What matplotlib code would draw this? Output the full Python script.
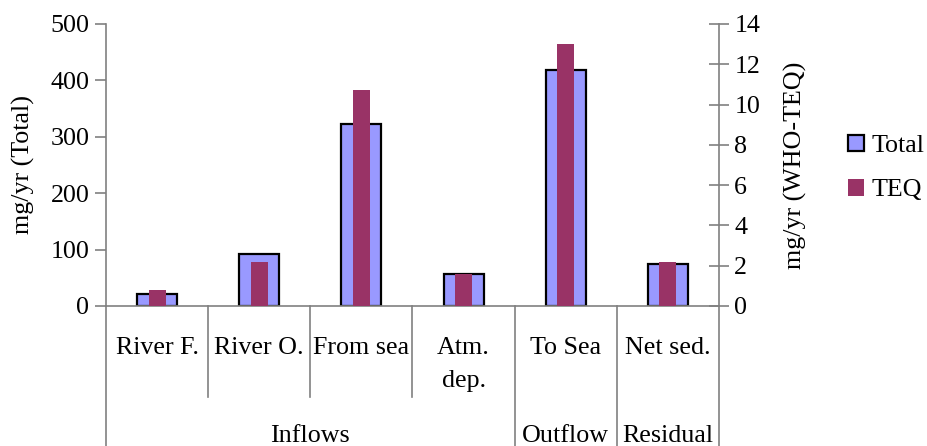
import numpy as np
import matplotlib
matplotlib.use("Agg")
import matplotlib.pyplot as plt
from matplotlib.patches import Patch
from matplotlib.lines import Line2D
import matplotlib.transforms as mtransforms

# flows of the budget, mg/yr
categories = ["River F.", "River O.", "From sea", "Atm.\ndep.", "To Sea", "Net sed."]
groups = ["Inflows", "Outflow", "Residual"]
group_sizes = [4, 1, 1]
total = [21, 92, 323, 57, 418, 75]
teq = [0.8, 2.2, 10.7, 1.6, 13.0, 2.2]

plt.rcParams["font.family"] = ["Liberation Serif", "DejaVu Serif"]
plt.rcParams["font.size"] = 18.7

axis_grey = "#808080"

fig = plt.figure(figsize=(9.28, 4.46), dpi=100)
W, H = 928, 446
ax = fig.add_axes([106 / W, 1 - 306 / H, (719 - 106) / W, (306 - 24) / H])
ax2 = ax.twinx()

x = np.arange(len(categories))
ax.bar(x, total, width=0.39, color="#9999FF", edgecolor="black", linewidth=1.6, zorder=2)
ax2.bar(x, teq, width=0.165, color="#993366", zorder=3)

ax.set_xlim(-0.5, len(categories) - 0.5)
ax.set_ylim(0, 500)
ax.set_yticks(range(0, 501, 100))
ax2.set_ylim(0, 14)
ax2.set_yticks(range(0, 15, 2))
ax.set_xticks([])

for a in (ax, ax2):
    a.spines["top"].set_visible(False)
    for s in a.spines.values():
        s.set_color(axis_grey)
        s.set_linewidth(1.2)
ax.spines["right"].set_visible(False)
ax2.spines["left"].set_visible(False)
ax2.spines["bottom"].set_visible(False)

ax.tick_params(axis="y", direction="out", length=8, width=1.2, color=axis_grey, pad=4)
ax2.tick_params(axis="y", direction="inout", length=14, width=1.2, color=axis_grey, pad=4)

ax.set_ylabel("mg/yr (Total)", labelpad=11)
ax2.set_ylabel("mg/yr (WHO-TEQ)", labelpad=17)

# two-level category axis under the plot
px = 1 / 282
trans = mtransforms.blended_transform_factory(ax.transData, ax.transAxes)
for i, name in enumerate(categories):
    ax.text(i, -31 * px, name, transform=trans, ha="center", va="top",
            linespacing=1.62, clip_on=False)

edges = np.concatenate([[0], np.cumsum(group_sizes)]) - 0.5
for xb in np.arange(len(categories) + 1) - 0.5:
    long_line = np.any(np.isclose(edges, xb))
    y_end = -140 * px if long_line else -91 * px
    ax.add_line(Line2D([xb, xb], [0, y_end], transform=trans, color=axis_grey,
                       linewidth=1.2, clip_on=False))

for k, g in enumerate(groups):
    center = (edges[k] + edges[k + 1]) / 2
    ax.text(center, -130 * px, g, transform=trans, ha="center", va="center",
            clip_on=False)

handles = [Patch(facecolor="#9999FF", edgecolor="black", linewidth=1.6, label="Total"),
           Patch(facecolor="#993366", label="TEQ")]
fig.legend(handles=handles, loc="center left", bbox_to_anchor=(838 / W, 1 - 168 / H),
           frameon=False, handlelength=0.6, handleheight=0.6, handletextpad=0.3,
           labelspacing=0.85, borderaxespad=0)

fig.savefig("out.png", dpi=100)
